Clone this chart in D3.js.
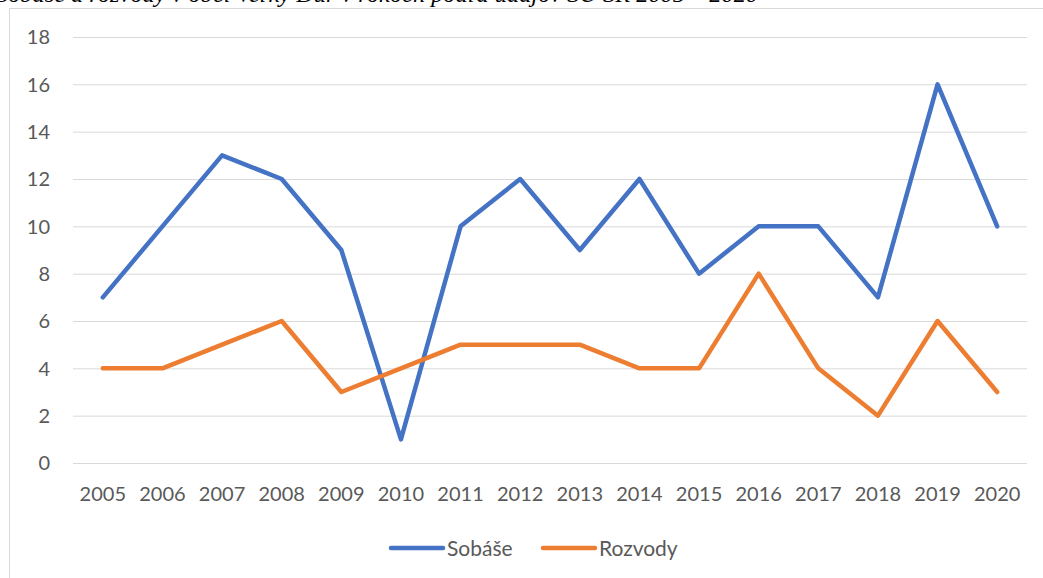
<!DOCTYPE html>
<html><head><meta charset="utf-8">
<script src="https://cdn.jsdelivr.net/npm/d3@7"></script>
<style>body{margin:0;background:#fff;overflow:hidden}svg{display:block}</style>
</head><body>
<svg id="c" width="1043" height="578"></svg>
<script>
const years = ["2005","2006","2007","2008","2009","2010","2011","2012","2013","2014","2015","2016","2017","2018","2019","2020"];
const sobase = [7,10,13,12,9,1,10,12,9,12,8,10,10,7,16,10];
const rozvody = [4,4,5,6,3,4,5,5,5,4,4,8,4,2,6,3];
const yTicks = [0,2,4,6,8,10,12,14,16,18];
const seriesNames = ["Sobáše","Rozvody"];
const colors = ["#4472C4","#ED7D31"];

const svg = d3.select("#c");
const font = "Lato, 'Open Sans', sans-serif";

// clipped title (only its lower part is visible, as in the reference)
svg.append("text").attr("x", -4).attr("y", 2)
  .attr("font-family","'Liberation Serif', serif").attr("font-style","italic")
  .attr("font-size",23).attr("fill","#000")
  .attr("textLength",762).attr("lengthAdjust","spacingAndGlyphs")
  .text("Sobáše a rozvody v obci Veľký Ďur v rokoch podľa údajov ŠÚ SR 2005 – 2020");

// chart border
svg.append("rect").attr("x",9.5).attr("y",8.5).attr("width",1100).attr("height",600)
  .attr("fill","none").attr("stroke","#d9d9d9").attr("stroke-width",1);

const x = d3.scaleBand().domain(years).range([73, 1027]);
const y = d3.scaleLinear().domain([0,18]).range([463, 37]);

const g = svg.append("g");
g.selectAll("line.grid").data(yTicks).join("line")
  .attr("x1",73).attr("x2",1027).attr("y1",d=>y(d)+0.5).attr("y2",d=>y(d)+0.5)
  .attr("stroke","#d9d9d9").attr("stroke-width",1);

g.selectAll("text.yl").data(yTicks).join("text")
  .attr("x",50).attr("y",d=>y(d)).attr("dy","0.36em").attr("text-anchor","end")
  .attr("font-family",font).attr("font-size",20).attr("fill","#595959").text(d=>d);

g.selectAll("text.xl").data(years).join("text")
  .attr("x",d=>x(d)+x.bandwidth()/2).attr("y",494).attr("dy","0.36em").attr("text-anchor","middle")
  .attr("font-family",font).attr("font-size",20).attr("fill","#595959").text(d=>d);

const line = d3.line().x((d,i)=>x(years[i])+x.bandwidth()/2).y(d=>y(d));
[sobase, rozvody].forEach((s,k)=>{
  g.append("path").datum(s).attr("d",line).attr("fill","none")
    .attr("stroke",colors[k]).attr("stroke-width",4.5)
    .attr("stroke-linejoin","round").attr("stroke-linecap","round");
});

// legend
const legX = [391, 543];
seriesNames.forEach((n,k)=>{
  svg.append("line").attr("x1",legX[k]).attr("x2",legX[k]+52).attr("y1",548).attr("y2",548)
    .attr("stroke",colors[k]).attr("stroke-width",4.5).attr("stroke-linecap","round");
  svg.append("text").attr("x",legX[k]+56).attr("y",548).attr("dy","0.36em")
    .attr("font-family",font).attr("font-size",21).attr("fill","#595959").text(n);
});
</script>
</body></html>
